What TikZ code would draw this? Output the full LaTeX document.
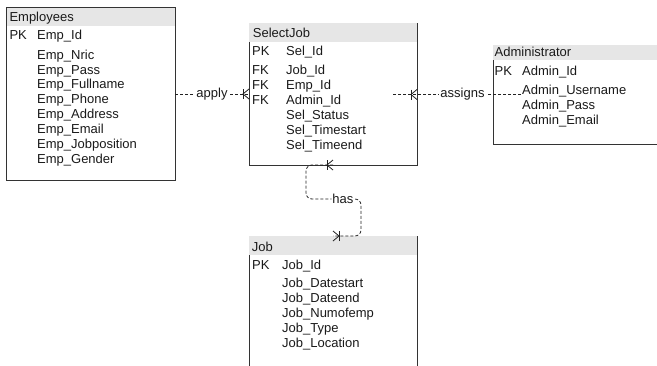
\documentclass[tikz,border=0pt]{standalone}
\usepackage{fontspec}
\setmainfont{Liberation Sans}
\definecolor{boxc}{HTML}{333333}
\definecolor{headc}{HTML}{E6E6E6}
\definecolor{txtc}{HTML}{1A1A1A}
\definecolor{linec}{HTML}{222222}
\begin{document}
\begin{tikzpicture}[x=1pt,y=-1pt,
  tbl/.style={draw=boxc, line width=0.9pt, fill=white, inner sep=0pt, outer sep=0pt, anchor=north west},
  hdr/.style={fill=headc, inner sep=0pt, outer sep=0pt, anchor=north west},
  txt/.style={text=txtc, inner sep=0pt, anchor=base west, font=\fontsize{13}{15}\selectfont},
  conn/.style={draw=linec, line width=0.8pt, dash pattern=on 3pt off 2pt},
  lbl/.style={fill=white, text=txtc, inner sep=1pt, font=\fontsize{13}{15}\selectfont},
  many/.pic={\draw[linec, line width=0.8pt] (0,-5) -- (-6,0) -- (0,5);
             \draw[linec, line width=0.8pt] (-6,-5) -- (-6,5);}
]
\useasboundingbox (0,0) rectangle (657,365);
\clip (0,0) rectangle (657,365);
\fill[white] (0,0) rectangle (657,365);

% ---------- Employees
\node[tbl, minimum width=168.5pt, minimum height=172.5pt] (emp) at (6.5,7.5) {};
\node[hdr, minimum width=167.6pt, minimum height=18pt] (emph) at ([shift={(0.45,0.45)}]emp.north west) {};
\node[txt] (empt) at (9.3,21.3) {Employees};
\node[txt] (emppk) at (9.3,39.6) {PK};
\node[txt] (emp1) at (37,39.6) {Emp\_Id};
\node[txt] (emp2) at (37,59.1) {Emp\_Nric};
\node[txt] (emp3) at (37,74.0) {Emp\_Pass};
\node[txt] (emp4) at (37,88.9) {Emp\_Fullname};
\node[txt] (emp5) at (37,103.8) {Emp\_Phone};
\node[txt] (emp6) at (37,118.7) {Emp\_Address};
\node[txt] (emp7) at (37,133.6) {Emp\_Email};
\node[txt] (emp8) at (37,148.5) {Emp\_Jobposition};
\node[txt] (emp9) at (37,163.4) {Emp\_Gender};

% ---------- SelectJob
\node[tbl, minimum width=168pt, minimum height=142pt] (sj) at (249,23) {};
\node[hdr, minimum width=167.1pt, minimum height=18.5pt] (sjh) at ([shift={(0.45,0.45)}]sj.north west) {};
\node[txt] (sjt) at (252.7,37.6) {SelectJob};
\node[txt] (sjk1) at (252,55.6) {PK};
\node[txt] (sjk2) at (252,74.6) {FK};
\node[txt] (sjk3) at (252,89.6) {FK};
\node[txt] (sjk4) at (252,104.6) {FK};
\node[txt] (sj1) at (286,55.6) {Sel\_Id};
\node[txt] (sj2) at (286,74.6) {Job\_Id};
\node[txt] (sj3) at (286,89.6) {Emp\_Id};
\node[txt] (sj4) at (286,104.6) {Admin\_Id};
\node[txt] (sj5) at (286,119.6) {Sel\_Status};
\node[txt] (sj6) at (286,134.6) {Sel\_Timestart};
\node[txt] (sj7) at (286,149.6) {Sel\_Timeend};

% ---------- Administrator
\node[tbl, minimum width=200pt, minimum height=99pt] (adm) at (493,45) {};
\node[hdr, minimum width=199pt, minimum height=15pt] (admh) at ([shift={(0.45,0.45)}]adm.north west) {};
\node[txt] (admt) at (494.5,56.6) {Administrator};
\node[txt] (admpk) at (494.5,75.6) {PK};
\node[txt] (adm1) at (522,75.6) {Admin\_Id};
\node[txt] (adm2) at (522,94.6) {Admin\_Username};
\node[txt] (adm3) at (522,109.6) {Admin\_Pass};
\node[txt] (adm4) at (522,124.6) {Admin\_Email};

% ---------- Job
\node[tbl, minimum width=168pt, minimum height=150pt] (job) at (249,236) {};
\node[hdr, minimum width=167.1pt, minimum height=18.5pt] (jobh) at ([shift={(0.45,0.45)}]job.north west) {};
\node[txt] (jobt) at (251.7,251.6) {Job};
\node[txt] (jobpk) at (252,269.6) {PK};
\node[txt] (job1) at (282,269.6) {Job\_Id};
\node[txt] (job2) at (282,287.6) {Job\_Datestart};
\node[txt] (job3) at (282,302.6) {Job\_Dateend};
\node[txt] (job4) at (282,317.6) {Job\_Numofemp};
\node[txt] (job5) at (282,332.6) {Job\_Type};
\node[txt] (job6) at (282,347.6) {Job\_Location};

% ---------- connectors
\draw[conn] (emp.east |- sj.west) -- node[lbl, pos=0.5] {apply} (sj.west);
\pic at (sj.west) {many};

\coordinate (asstart) at ([xshift=-1pt]adm2.west |- adm.west);
\coordinate (asend) at ([xshift=-24pt]sj.east |- adm.west);
\draw[conn] (asstart) -- node[lbl, pos=0.457] {assigns} (asend);
\pic at (sj.east |- adm.west) {many};

\draw[conn, rounded corners=6pt] (sj.south) -- ++(-27,0) -- ++(0,34)
  -- node[lbl, pos=0.67] {has} ++(55,0) -- ++(0,37) -- (job.north);
\pic at (sj.south) {many};
\pic[rotate=180] at (job.north) {many};
\end{tikzpicture}
\end{document}
